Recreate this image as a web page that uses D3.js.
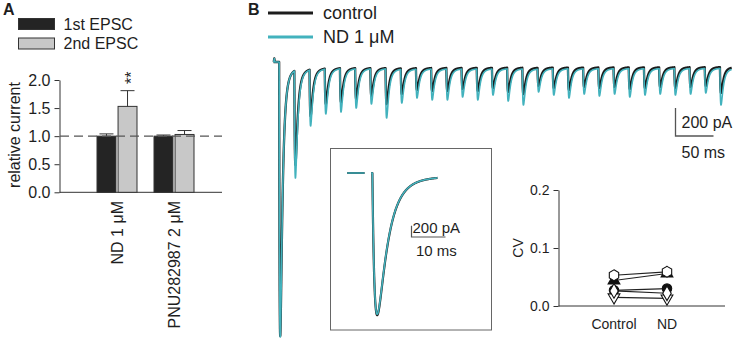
<!DOCTYPE html>
<html>
<head>
<meta charset="utf-8">
<script src="https://cdn.jsdelivr.net/npm/d3@7"></script>
<style>
  body { margin: 0; background: #fff; }
  svg text { font-family: "Liberation Sans", Arial, sans-serif; fill: #1e1e1e; }
</style>
</head>
<body>
<svg id="fig" width="737" height="342"></svg>
<script>
// ---------------- data : panel A ----------------
const groups = ["ND 1 μM", "PNU282987 2 μM"];
const pulses = ["1st EPSC", "2nd EPSC"];
const relMean = [[1.00, 1.53], [1.00, 1.03]];
const relSem  = [[0.04, 0.28], [0.02, 0.07]];
const relTicks = [0, 0.5, 1.0, 1.5, 2.0];
const sigMark = "**";

// ---------------- data : panel B traces ----------------
const traceNames = ["control", "ND 1 μM"];
const stimStart = 9;       // ms
const stimInterval = 20;   // ms (50 Hz)
// peak current of each EPSC in the train, pA
const controlPeaks = [-1957, -736, -386, -300, -286, -264, -243, -300, -229, -200,
                      -207, -207, -193, -207, -186, -214, -229, -171, -186, -200,
                      -179, -186, -179, -193, -186, -179, -186, -179, -171, -221];
const ndPeaks      = [-1964, -829, -457, -371, -357, -329, -300, -400, -293, -257,
                      -271, -271, -250, -271, -236, -279, -307, -214, -236, -257,
                      -229, -243, -229, -250, -236, -229, -236, -229, -221, -307];
const startBlip = 25;      // pA, transient at start of sweep
const insetPeaks = [-2515, -2500];   // first EPSC, control / ND
const mainScaleBar = [200, 50];     // pA, ms
const insetScaleBar = [200, 10];    // pA, ms

// ---------------- data : CV ----------------
const cvConditions = ["Control", "ND"];
const cvShapes  = ["triangle", "hexagon", "circle", "triangleDown", "diamond"];
const cvFilled  = [true, false, true, false, false];
const cvControl = [0.044, 0.053, 0.027, 0.015, 0.026];
const cvND      = [0.056, 0.059, 0.030, 0.013, 0.022];
const cvTicks = [0, 0.1, 0.2];

const traceColor = ["#1c1c1c", "#42b2bd"];
const svg = d3.select("#fig");

function styleAxis(g, size) {
  g.attr("font-family", null).attr("font-size", null);
  g.selectAll("path,line").attr("stroke", "#333");
  g.selectAll("text").style("font-size", size + "px").attr("fill", "#1e1e1e");
}

// =================== Panel A ===================
const yA = d3.scaleLinear().domain([0, 2]).range([192.3, 80]);
const x0 = d3.scaleBand().domain(groups).range([88.5, 202.5]);
const x1 = d3.scaleBand().domain(pulses).range([8.5, 48.5]).paddingInner(0.1);
const pulseFill = d3.scaleOrdinal().domain(pulses).range(["#242424", "#c8c8c8"]);

const gA = svg.append("g");
gA.append("text").text("A").attr("x", 3).attr("y", 15)
  .style("font-weight", "bold").style("font-size", "16px");

// legend
const legA = gA.selectAll("g.leg").data(pulses).join("g").attr("class", "leg")
  .attr("transform", (d, i) => `translate(18.5,${18.5 + i * 19.5})`);
legA.append("rect").attr("width", 36).attr("height", 11)
  .attr("fill", d => pulseFill(d)).attr("stroke", "#333");
legA.append("text").attr("x", 45).attr("y", 11).text(d => d).style("font-size", "16px");

// axes
gA.append("g").attr("transform", "translate(59.5,0)")
  .call(d3.axisLeft(yA).tickValues(relTicks).tickFormat(d3.format(".1f"))
        .tickSize(5).tickSizeOuter(0).tickPadding(4))
  .call(g => styleAxis(g, 16));
gA.append("line").attr("x1", 59.5).attr("x2", 222).attr("y1", yA(0)).attr("y2", yA(0))
  .attr("stroke", "#333");
gA.append("text").text("relative current")
  .attr("transform", `translate(14,${yA(1.02)}) rotate(-90)`)
  .attr("text-anchor", "middle").attr("dy", "0.35em").style("font-size", "16px");

// bars
const barData = [];
groups.forEach((g, gi) => pulses.forEach((p, pi) =>
  barData.push({ g, p, m: relMean[gi][pi], e: relSem[gi][pi] })));

gA.selectAll("rect.bar").data(barData).join("rect").attr("class", "bar")
  .attr("x", d => x0(d.g) + x1(d.p))
  .attr("y", d => yA(d.m))
  .attr("width", x1.bandwidth())
  .attr("height", d => yA(0) - yA(d.m))
  .attr("fill", d => pulseFill(d.p)).attr("stroke", "#333").attr("stroke-width", 1);

const cx = d => x0(d.g) + x1(d.p) + x1.bandwidth() / 2;
gA.selectAll("line.err").data(barData).join("line").attr("class", "err")
  .attr("x1", cx).attr("x2", cx)
  .attr("y1", d => yA(d.m)).attr("y2", d => yA(d.m + d.e)).attr("stroke", "#333");
gA.selectAll("line.cap").data(barData).join("line").attr("class", "cap")
  .attr("x1", d => cx(d) - 7).attr("x2", d => cx(d) + 7)
  .attr("y1", d => yA(d.m + d.e)).attr("y2", d => yA(d.m + d.e)).attr("stroke", "#333");

// reference line at 1
gA.append("line").attr("x1", 60).attr("x2", 222).attr("y1", yA(1)).attr("y2", yA(1))
  .attr("stroke", "#555").attr("stroke-width", 1.2).attr("stroke-dasharray", "9,5");

// significance
const sigBar = barData[1];
gA.append("text").text(sigMark)
  .attr("transform", `translate(${cx(sigBar)},${yA(sigBar.m + sigBar.e) - 13}) rotate(-90)`)
  .attr("text-anchor", "middle").attr("dy", "0.62em").style("font-size", "16px");

// category labels
gA.selectAll("text.cat").data(groups).join("text").attr("class", "cat")
  .attr("transform", d => `translate(${x0(d) + x0.bandwidth() / 2},201) rotate(-90)`)
  .attr("text-anchor", "end").attr("dy", "0.35em").style("font-size", "16px")
  .text(d => d);

// =================== Panel B ===================
const gB = svg.append("g");
gB.append("text").text("B").attr("x", 248).attr("y", 15)
  .style("font-weight", "bold").style("font-size", "16px");

const legB = gB.selectAll("g.legB").data(traceNames).join("g").attr("class", "legB")
  .attr("transform", (d, i) => `translate(268,${13 + i * 24})`);
legB.append("line").attr("x1", 0).attr("x2", 45)
  .attr("stroke", (d, i) => traceColor[i]).attr("stroke-width", 3);
legB.append("text").attr("x", 55).attr("y", 6).text(d => d).style("font-size", "18px");

// EPSC kernel: fast rise/decay plus small slow and tonic parts (fractions of peak)
const kLat = 0.4, kRise = 1.0, kFast = 3.0;
const kSlow = [[0.068, 15], [0.015, 300]];
const fastShape = s => (1 - Math.exp(-s / kRise)) * Math.exp(-s / kFast);
const kGrid = d3.range(0, 12, 0.01);
const fastMax = d3.max(kGrid, fastShape);
function kRaw(t) {
  if (t <= kLat) return 0;
  const s = t - kLat;
  const r = 1 - Math.exp(-s / kRise);
  return fastShape(s) / fastMax + r * d3.sum(kSlow, c => c[0] * Math.exp(-s / c[1]));
}
const kMax = d3.max(kGrid, kRaw);
const kPeakT = kGrid[d3.maxIndex(kGrid, kRaw)];
const kern = t => kRaw(t) / kMax;

function buildTrace(peaks) {
  const stims = peaks.map((p, i) => stimStart + i * stimInterval);
  const amps = [];
  peaks.forEach((p, i) => {
    const tp = stims[i] + kPeakT;
    const resid = d3.sum(amps, (a, j) => a * kern(tp - stims[j]));
    amps.push(p - resid);
  });
  const ts = d3.range(2, 605, 0.1).concat(stims.map(s => s + kPeakT)).sort((a, b) => a - b);
  return ts.map(t => {
    let v = d3.sum(amps, (a, j) => a * kern(t - stims[j]));
    const b = Math.abs(t - 3);
    if (b < 0.7) v += startBlip * (1 - b / 0.7);
    return [t, v];
  });
}

const xB = d3.scaleLinear().domain([0, 610]).range([272, 272 + 610 * 0.76]);
const yB = d3.scaleLinear().domain([0, -2000]).range([62, 342]);
const lineB = d3.line().x(d => xB(d[0])).y(d => yB(d[1]));

[controlPeaks, ndPeaks].forEach((pk, i) => {
  gB.append("path").datum(buildTrace(pk)).attr("d", lineB)
    .attr("fill", "none").attr("stroke", traceColor[i])
    .attr("stroke-width", i === 0 ? 2.3 : 1.6).attr("stroke-linejoin", "round");
});

// main scale bar
const sb = gB.append("g").attr("transform", "translate(675.5,136)");
sb.append("path")
  .attr("d", `M0,${yB(0) - yB(-mainScaleBar[0])}V0H${xB(mainScaleBar[1]) - xB(0)}`)
  .attr("fill", "none").attr("stroke", "#555").attr("stroke-width", 1.3);
sb.append("text").attr("x", 6).attr("y", -8).text(mainScaleBar[0] + " pA").style("font-size", "16px");
sb.append("text").attr("x", 6).attr("y", 22).text(mainScaleBar[1] + " ms").style("font-size", "16px");

// inset
gB.append("rect").attr("x", 330.5).attr("y", 148.5).attr("width", 161).attr("height", 181.5)
  .attr("fill", "none").attr("stroke", "#666").attr("stroke-width", 1);
const xI = d3.scaleLinear().domain([0, 1]).range([371, 374.4]);
const yI = d3.scaleLinear().domain([0, -2500]).range([173, 314.25]);
const lineI = d3.line().defined(d => d[1] !== null).x(d => xI(d[0])).y(d => yI(d[1]));
insetPeaks.forEach((p, i) => {
  const pts = d3.range(-7, -1.8, 0.1).map(t => [t, 0])
    .concat([[-1, null]])
    .concat(d3.range(0, 19.6, 0.05).map(t => [t, p * kern(t)]));
  gB.append("path").datum(pts).attr("d", lineI)
    .attr("fill", "none").attr("stroke", traceColor[i])
    .attr("stroke-width", i === 0 ? 2.2 : 1.6).attr("stroke-linejoin", "round");
});
const sbi = gB.append("g").attr("transform", "translate(411.5,237)");
sbi.append("path")
  .attr("d", `M0,${yI(0) - yI(-insetScaleBar[0])}V0H${xI(insetScaleBar[1]) - xI(0)}`)
  .attr("fill", "none").attr("stroke", "#555").attr("stroke-width", 1.2);
sbi.append("text").attr("x", 1).attr("y", -4).text(insetScaleBar[0] + " pA").style("font-size", "15px");
sbi.append("text").attr("x", 4.5).attr("y", 19).text(insetScaleBar[1] + " ms").style("font-size", "15px");

// =================== CV plot ===================
const gC = svg.append("g");
const xC = d3.scalePoint().domain(cvConditions).range([587.5, 693.5]).padding(0.5);
const yC = d3.scaleLinear().domain([0, 0.2]).range([306, 190]);

gC.append("g").attr("transform", "translate(558.5,0)")
  .call(d3.axisLeft(yC).tickValues(cvTicks).tickFormat(d3.format(".1f"))
        .tickSize(5).tickSizeOuter(0).tickPadding(4))
  .call(g => styleAxis(g, 14));
gC.append("line").attr("x1", 558.5).attr("x2", 725).attr("y1", yC(0)).attr("y2", yC(0))
  .attr("stroke", "#333");
gC.selectAll("text.cond").data(cvConditions).join("text").attr("class", "cond")
  .attr("x", d => xC(d)).attr("y", 329).attr("text-anchor", "middle")
  .style("font-size", "14px").text(d => d);
gC.append("text").text("CV").attr("transform", `translate(518,${yC(0.1)}) rotate(-90)`)
  .attr("text-anchor", "middle").attr("dy", "0.35em").style("font-size", "14px");

const hexagon = {
  draw(ctx, size) {
    const r = Math.sqrt(size * 2 / (3 * Math.sqrt(3)));
    for (let k = 0; k < 6; k++) {
      const a = -Math.PI / 2 + k * Math.PI / 3;
      if (k === 0) ctx.moveTo(r * Math.cos(a), r * Math.sin(a));
      else ctx.lineTo(r * Math.cos(a), r * Math.sin(a));
    }
    ctx.closePath();
  }
};
const symType = { triangle: d3.symbolTriangle, triangleDown: d3.symbolTriangle,
                  hexagon: hexagon, circle: d3.symbolCircle, diamond: d3.symbolDiamond };
const symSize = { triangle: 60, triangleDown: 60, hexagon: 76, circle: 70, diamond: 62 };

const cvSeries = cvShapes.map((s, i) => ({ s, f: cvFilled[i], v: [cvControl[i], cvND[i]] }));
gC.selectAll("line.cvl").data(cvSeries).join("line").attr("class", "cvl")
  .attr("x1", xC(cvConditions[0])).attr("x2", xC(cvConditions[1]))
  .attr("y1", d => yC(d.v[0])).attr("y2", d => yC(d.v[1]))
  .attr("stroke", "#222").attr("stroke-width", 1.2);

cvSeries.forEach(d => {
  d.v.forEach((v, k) => {
    gC.append("path")
      .attr("d", d3.symbol().type(symType[d.s]).size(symSize[d.s])())
      .attr("transform", `translate(${xC(cvConditions[k])},${yC(v)})` + (d.s === "triangleDown" ? " rotate(180)" : ""))
      .attr("fill", d.f ? "#111" : "#fff").attr("stroke", "#111").attr("stroke-width", 1.1);
  });
});
</script>
</body>
</html>
